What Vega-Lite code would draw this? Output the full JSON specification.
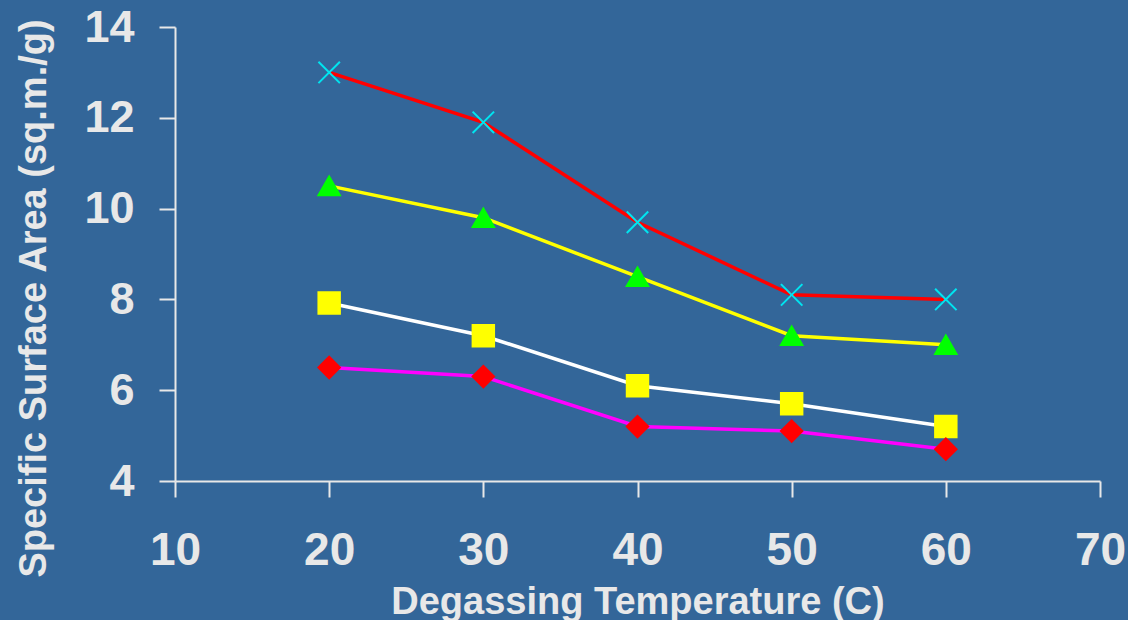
{
  "$schema": "https://vega.github.io/schema/vega-lite/v6.json",
  "width": 925,
  "height": 454,
  "autosize": "none",
  "padding": {"left": 175, "top": 27, "right": 28, "bottom": 139},
  "background": "#336699",
  "config": {
    "view": {"stroke": null},
    "font": "Liberation Sans",
    "axis": {
      "domainColor": "#e8e8e8",
      "domainWidth": 2,
      "tickColor": "#e8e8e8",
      "tickWidth": 2,
      "tickSize": 16,
      "grid": false,
      "labelFlush": false,
      "labelOverlap": false,
      "labelColor": "#e8e8e8",
      "labelFont": "Liberation Sans",
      "labelFontWeight": "bold",
      "labelFontSize": 45,
      "titleColor": "#e8e8e8",
      "titleFont": "Liberation Sans",
      "titleFontWeight": "bold",
      "titleFontSize": 38
    }
  },
  "data": {
    "values": [
      {"T": 20, "S": 13.0, "series": "A"},
      {"T": 30, "S": 11.9, "series": "A"},
      {"T": 40, "S": 9.7, "series": "A"},
      {"T": 50, "S": 8.1, "series": "A"},
      {"T": 60, "S": 8.0, "series": "A"},
      {"T": 20, "S": 10.5, "series": "B"},
      {"T": 30, "S": 9.8, "series": "B"},
      {"T": 40, "S": 8.5, "series": "B"},
      {"T": 50, "S": 7.2, "series": "B"},
      {"T": 60, "S": 7.0, "series": "B"},
      {"T": 20, "S": 7.92, "series": "C"},
      {"T": 30, "S": 7.2, "series": "C"},
      {"T": 40, "S": 6.1, "series": "C"},
      {"T": 50, "S": 5.7, "series": "C"},
      {"T": 60, "S": 5.2, "series": "C"},
      {"T": 20, "S": 6.5, "series": "D"},
      {"T": 30, "S": 6.3, "series": "D"},
      {"T": 40, "S": 5.2, "series": "D"},
      {"T": 50, "S": 5.1, "series": "D"},
      {"T": 60, "S": 4.7, "series": "D"}
    ]
  },
  "encoding": {
    "x": {
      "field": "T", "type": "quantitative",
      "scale": {"domain": [10, 70], "nice": false, "zero": false},
      "axis": {
        "values": [10, 20, 30, 40, 50, 60, 70],
        "title": "Degassing Temperature (C)",
        "labelPadding": 31,
        "labelFontSize": 46,
        "titleBaseline": "alphabetic",
        "titleY": 132
      }
    },
    "y": {
      "field": "S", "type": "quantitative",
      "scale": {"domain": [4, 14], "nice": false, "zero": false},
      "axis": {
        "values": [4, 6, 8, 10, 12, 14],
        "title": "Specific Surface Area (sq.m./g)",
        "labelPadding": 25,
        "titleBaseline": "alphabetic",
        "titleX": -130,
        "titleY": 271
      }
    }
  },
  "layer": [
    {
      "mark": {"type": "line", "strokeWidth": 3.5},
      "encoding": {
        "color": {
          "field": "series", "type": "nominal",
          "scale": {"domain": ["A", "B", "C", "D"], "range": ["#ff0000", "#ffff00", "#ffffff", "#ff00ff"]},
          "legend": null
        }
      }
    },
    {
      "mark": {"type": "point", "filled": true, "strokeWidth": 2, "opacity": 1, "size": 460},
      "encoding": {
        "shape": {
          "field": "series", "type": "nominal",
          "scale": {"domain": ["A", "B", "C", "D"], "range": ["M-1,-1L1,1M-1,1L1,-1", "triangle-up", "square", "diamond"]},
          "legend": null
        },
        "fill": {
          "field": "series", "type": "nominal",
          "scale": {"domain": ["A", "B", "C", "D"], "range": ["transparent", "#00ff00", "#ffff00", "#ff0000"]},
          "legend": null
        },
        "stroke": {
          "field": "series", "type": "nominal",
          "scale": {"domain": ["A", "B", "C", "D"], "range": ["#00e5f0", "#00ff00", "#ffff00", "#ff0000"]},
          "legend": null
        }
      }
    }
  ]
}
